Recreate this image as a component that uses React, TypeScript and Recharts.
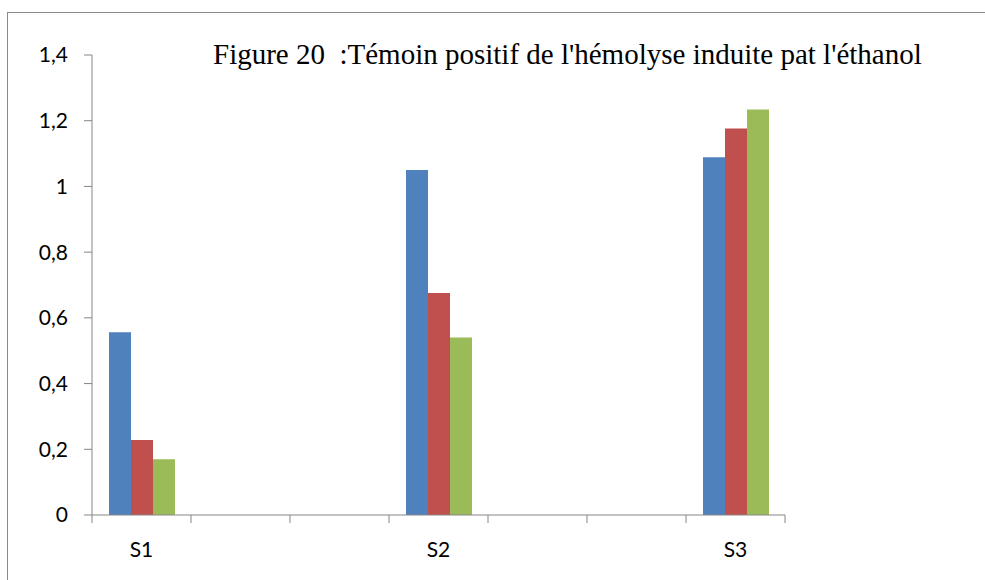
import React from "react";
import { BarChart, Bar, XAxis, YAxis } from "recharts";

const categories = ["S1", "", "", "S2", "", "", "S3"];
const serie1 = [0.556, null, null, 1.05, null, null, 1.089];
const serie2 = [0.228, null, null, 0.676, null, null, 1.176];
const serie3 = [0.17, null, null, 0.54, null, null, 1.234];
const yTicks = [0, 0.2, 0.4, 0.6, 0.8, 1, 1.2, 1.4];
const title = "Figure 20  :Témoin positif de l'hémolyse induite pat l'éthanol";

const data = categories.map((c, i) => ({
  name: c,
  s1: serie1[i],
  s2: serie2[i],
  s3: serie3[i],
}));

const AXIS = "#868686";
const LABEL_FONT = "Lato, 'Open Sans', sans-serif";

const XTick = (props: any) => {
  const { x, y, payload, index, width, visibleTicksCount } = props;
  const band = width / visibleTicksCount;
  const left = x - band / 2;
  const right = x + band / 2;
  return (
    <g>
      <line x1={left} x2={left} y1={y} y2={y + 8} stroke={AXIS} strokeWidth={1} />
      {index === visibleTicksCount - 1 && (
        <line x1={right} x2={right} y1={y} y2={y + 8} stroke={AXIS} strokeWidth={1} />
      )}
      <text
        x={x}
        y={y + 42}
        textAnchor="middle"
        fill="#000"
        fontSize={21}
        fontFamily={LABEL_FONT}
      >
        {payload.value}
      </text>
    </g>
  );
};

const fmt = (v: number) => String(v).replace(".", ",");

export default function App() {
  return (
    <div
      style={{
        position: "absolute",
        left: 0,
        top: 0,
        width: 985,
        height: 580,
        background: "#fff",
        overflow: "hidden",
      }}
    >
      <div
        style={{
          position: "absolute",
          left: 7,
          top: 12,
          width: 990,
          height: 600,
          borderLeft: "1px solid #8a8a8a",
          borderTop: "1px solid #8a8a8a",
        }}
      />
      <div
        style={{
          position: "absolute",
          left: 213,
          top: 36,
          fontFamily: "'Liberation Serif', 'Times New Roman', serif",
          fontSize: 29,
          lineHeight: "36px",
          whiteSpace: "pre",
          color: "#000",
        }}
      >
        {title}
      </div>
      <div style={{ position: "absolute", left: 0, top: 0 }}>
        <BarChart
          width={985}
          height={580}
          data={data}
          margin={{ top: 55, right: 200, bottom: 0, left: 0 }}
          barGap={0}
        >
          <XAxis
            dataKey="name"
            height={65}
            axisLine={{ stroke: AXIS }}
            tickLine={false}
            tickSize={0}
            tickMargin={0}
            interval={0}
            tick={<XTick />}
          />
          <YAxis
            width={92}
            domain={[0, 1.4]}
            ticks={yTicks}
            interval={0}
            axisLine={{ stroke: AXIS }}
            tickLine={{ stroke: AXIS }}
            tickSize={8}
            tickMargin={16}
            tickFormatter={fmt}
            tick={{ fill: "#000", fontSize: 21, fontFamily: LABEL_FONT }}
          />
          <Bar dataKey="s1" fill="#4F81BD" barSize={22} isAnimationActive={false} />
          <Bar dataKey="s2" fill="#C0504D" barSize={22} isAnimationActive={false} />
          <Bar dataKey="s3" fill="#9BBB59" barSize={22} isAnimationActive={false} />
        </BarChart>
      </div>
    </div>
  );
}
